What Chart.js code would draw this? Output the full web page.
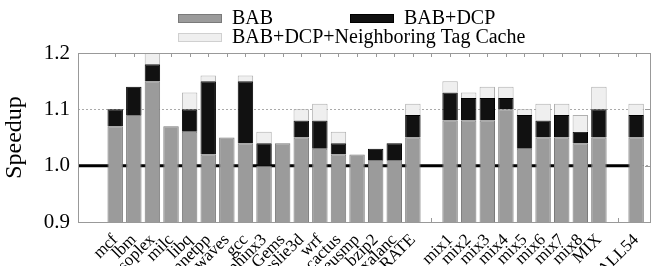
<!DOCTYPE html>
<html lang="en">
<head>
<meta charset="UTF-8">
<title>Speedup</title>
<script src="https://cdn.jsdelivr.net/npm/chart.js"></script>
<style>
  body { margin: 0; background: #fff; }
  .chart-box { width: 652px; height: 266px; }
</style>
</head>
<body>
<div class="chart-box"><canvas id="speedupChart"></canvas></div>
<script>
// benchmark names, '' = empty slot between groups
const names = ['mcf', 'lbm', 'soplex', 'milc', 'libq', 'mnetpp', 'bwaves', 'gcc', 'sphinx3', 'Gems',
  'leslie3d', 'wrf', 'cactus', 'zeusmp', 'bzip2', 'xalanc', 'RATE', '',
  'mix1', 'mix2', 'mix3', 'mix4', 'mix5', 'mix6', 'mix7', 'mix8', 'MIX', '', 'ALL54'];
// speedup of each configuration (top of each stacked segment)
const bab = [1.07, 1.09, 1.15, 1.07, 1.06, 1.02, 1.05, 1.04, 1.00, 1.04,
  1.05, 1.03, 1.02, 1.02, 1.01, 1.01, 1.05, null,
  1.08, 1.08, 1.08, 1.10, 1.03, 1.05, 1.05, 1.04, 1.05, null, 1.05];
const babDcp = [1.10, 1.14, 1.18, 1.07, 1.10, 1.15, 1.05, 1.15, 1.04, 1.04,
  1.08, 1.08, 1.04, 1.02, 1.03, 1.04, 1.09, null,
  1.13, 1.12, 1.12, 1.12, 1.09, 1.08, 1.09, 1.06, 1.10, null, 1.09];
const babDcpNtc = [1.10, 1.14, 1.20, 1.07, 1.13, 1.16, 1.05, 1.16, 1.06, 1.04,
  1.10, 1.11, 1.06, 1.02, 1.03, 1.04, 1.11, null,
  1.15, 1.13, 1.14, 1.14, 1.10, 1.11, 1.11, 1.09, 1.14, null, 1.11];
const seriesNames = ['BAB', 'BAB+DCP', 'BAB+DCP+Neighboring Tag Cache'];
const yTicks = [0.9, 1.0, 1.1, 1.2];
const baseline = 1.0;

const serif = 'Liberation Serif';

// build floating segments
const babData = [], dcpData = [], ntcData = [];
names.forEach((n, i) => {
  if (bab[i] == null) return;
  babData.push({ x: i, y: bab[i] });
  if (babDcp[i] > bab[i]) dcpData.push({ x: i, y: [bab[i], babDcp[i]] });
  if (babDcpNtc[i] > babDcp[i]) ntcData.push({ x: i, y: [babDcp[i], babDcpNtc[i]] });
});
const tickPositions = names.map((n, i) => n ? i : null).filter(v => v !== null);

// small mirrored tick marks (top and right), drawn behind the bars
const mirrorTicks = {
  id: 'mirrorTicks',
  beforeDatasetsDraw(chart) {
    const a = chart.chartArea, ctx = chart.ctx;
    const xs = chart.scales.x, ys = chart.scales.y;
    ctx.save();
    ctx.strokeStyle = '#999';
    ctx.lineWidth = 1;
    ctx.beginPath();
    names.forEach((n, i) => {
      const px = Math.round(xs.getPixelForValue(i)) + 0.5;
      ctx.moveTo(px, a.top); ctx.lineTo(px, a.top + 4);
      ctx.moveTo(px, a.bottom); ctx.lineTo(px, a.bottom - 4);
    });
    yTicks.forEach(v => {
      const py = Math.round(ys.getPixelForValue(v)) + 0.5;
      ctx.moveTo(a.right, py); ctx.lineTo(a.right - 6, py);
    });
    ctx.stroke();
    ctx.restore();
  }
};

// frame around the plot
const framePlugin = {
  id: 'frame',
  afterDatasetsDraw(chart) {
    const a = chart.chartArea, ctx = chart.ctx;
    ctx.save();
    ctx.strokeStyle = '#999';
    ctx.lineWidth = 1;
    ctx.strokeRect(a.left + 0.5, a.top + 0.5, a.right - a.left - 1, a.bottom - a.top);
    ctx.restore();
  }
};

// legend: two rows, left aligned
const legendPlugin = {
  id: 'gnuLegend',
  afterDraw(chart) {
    const ctx = chart.ctx;
    const ds = chart.data.datasets;
    const items = [
      { d: ds[0], x: 178, y: 14 },
      { d: ds[1], x: 350, y: 14 },
      { d: ds[2], x: 178, y: 33 }
    ];
    ctx.save();
    ctx.font = '20px "' + serif + '"';
    ctx.textBaseline = 'middle';
    items.forEach(it => {
      ctx.fillStyle = it.d.backgroundColor;
      ctx.fillRect(it.x, it.y, 44, 9);
      ctx.strokeStyle = it.d.borderColor;
      ctx.lineWidth = 1;
      ctx.setLineDash(it.d.label === seriesNames[2] ? [1, 1] : []);
      ctx.strokeRect(it.x + 0.5, it.y + 0.5, 43, 8);
      ctx.setLineDash([]);
      ctx.fillStyle = '#000';
      ctx.fillText(it.d.label, it.x + 54, it.y + 5);
    });
    ctx.restore();
  }
};

new Chart(document.getElementById('speedupChart'), {
  type: 'bar',
  data: {
    datasets: [{
      label: seriesNames[0],
      data: babData,
      backgroundColor: '#9b9b9b',
      borderColor: '#7a7a7a',
      borderWidth: 1,
      grouped: false,
      order: 3
    }, {
      label: seriesNames[1],
      data: dcpData,
      backgroundColor: '#111111',
      borderColor: '#000000',
      borderWidth: 1,
      grouped: false,
      order: 2
    }, {
      label: seriesNames[2],
      data: ntcData,
      backgroundColor: '#efefef',
      borderColor: '#b0b0b0',
      borderWidth: 1,
      grouped: false,
      order: 1
    }, {
      type: 'line',
      label: 'baseline',
      data: [{ x: -2, y: baseline }, { x: names.length - 1, y: baseline }],
      borderColor: '#000',
      borderWidth: 3,
      pointRadius: 0,
      order: 10
    }]
  },
  options: {
    responsive: true,
    maintainAspectRatio: false,
    animation: false,
    layout: { padding: { top: 53, right: 1, left: 0, bottom: 0 } },
    datasets: { bar: { barPercentage: 0.83, categoryPercentage: 1 } },
    plugins: { legend: { display: false }, tooltip: { enabled: false } },
    scales: {
      x: {
        type: 'linear',
        offset: false,
        bounds: 'data',
        min: -2,
        max: 28.8,
        afterBuildTicks: s => { s.ticks = tickPositions.map(v => ({ value: v })); },
        afterFit: s => { s.height = 44; s.paddingLeft = 0; s.paddingRight = 0; },
        ticks: {
          autoSkip: false,
          maxRotation: 45,
          minRotation: 45,
          padding: 0,
          color: '#000',
          font: { family: serif, size: 17 },
          callback: v => names[v]
        },
        grid: { display: false },
        border: { display: false }
      },
      y: {
        min: 0.9,
        max: 1.2,
        afterBuildTicks: s => { s.ticks = yTicks.map(v => ({ value: v })); },
        afterFit: s => { s.width = 78; },
        ticks: {
          color: '#000',
          padding: 8,
          font: { family: serif, size: 21 },
          callback: v => v.toFixed(1)
        },
        grid: { color: '#aaaaaa', lineWidth: 1, drawTicks: false },
        border: { display: false, dash: [2, 2] },
        title: {
          display: true,
          text: 'Speedup',
          color: '#000',
          font: { family: serif, size: 24 },
          padding: 0
        }
      }
    }
  },
  plugins: [mirrorTicks, framePlugin, legendPlugin]
});
</script>
</body>
</html>
